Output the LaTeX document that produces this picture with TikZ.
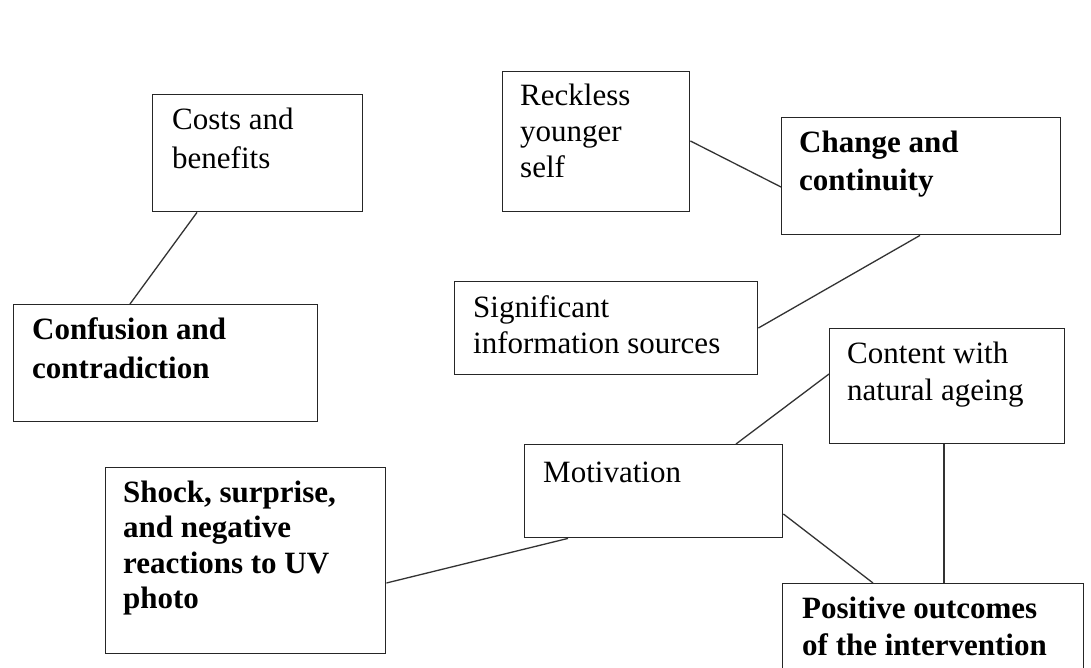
\documentclass[tikz,border=0pt]{standalone}
\usepackage{fontspec}
\setmainfont{Liberation Serif}
\tikzset{
  box/.style={draw=black!85, line width=1.4pt, inner sep=0pt, anchor=north west, fill=white},
  txt/.style={inner sep=0pt, anchor=base west, text=black},
  conn/.style={draw=black!80, line width=1.3pt},
}
\newcommand{\tl}[1]{\begin{tabular}[t]{@{}l@{}}#1\end{tabular}}
\begin{document}
\begin{tikzpicture}[x=1pt,y=-1pt]
\fill[white] (0,0) rectangle (1091,668);
\useasboundingbox (0,0) rectangle (1091,668);
% boxes
\node[box, minimum width=210pt, minimum height=117pt] (cb) at (152,94) {};
\node[box, minimum width=304pt, minimum height=117pt] (cc) at (13,304) {};
\node[box, minimum width=187pt, minimum height=140pt] (rs) at (502,71) {};
\node[box, minimum width=279pt, minimum height=117pt] (ch) at (781,117) {};
\node[box, minimum width=303pt, minimum height=93pt] (si) at (454,281) {};
\node[box, minimum width=235pt, minimum height=115pt] (co) at (829,328) {};
\node[box, minimum width=258pt, minimum height=93pt] (mo) at (524,444) {};
\node[box, minimum width=280pt, minimum height=186pt] (sh) at (105,467) {};
\node[box, minimum width=301pt, minimum height=120pt] (po) at (782,583) {};
% texts
\node[txt, font=\fontsize{31}{39}\selectfont] (cbt) at (172,130) {\tl{Costs and\\benefits}};
\node[txt, font=\fontsize{31}{39}\selectfont\bfseries] (cct) at (32,339) {\tl{Confusion and\\contradiction}};
\node[txt, font=\fontsize{31}{36}\selectfont] (rst) at (520,106) {\tl{Reckless\\younger\\self}};
\node[txt, font=\fontsize{31}{38}\selectfont\bfseries] (cht) at (799,153) {\tl{Change and\\continuity}};
\node[txt, font=\fontsize{31}{36}\selectfont] (sit) at (473,317) {\tl{Significant\\information sources}};
\node[txt, font=\fontsize{31}{37}\selectfont] (cot) at (847,363) {\tl{Content with\\natural ageing}};
\node[txt, font=\fontsize{31}{37}\selectfont] (mot) at (543,482) {\tl{Motivation}};
\node[txt, font=\fontsize{31}{35.5}\selectfont\bfseries] (sht) at (123,502) {\tl{Shock, surprise,\\and negative\\reactions to UV\\photo}};
\node[txt, font=\fontsize{31}{37}\selectfont\bfseries] (pot) at (802,618) {\tl{Positive outcomes\\of the intervention}};
% connectors
\draw[conn] ([xshift=45pt]cb.south west) -- ([xshift=117pt]cc.north west);
\draw[conn] ([yshift=-70pt]rs.north east) -- ([yshift=-70pt]ch.north west);
\draw[conn] ([xshift=139pt]ch.south west) -- ([yshift=-47pt]si.north east);
\draw[conn] ([yshift=-46pt]co.north west) -- ([xshift=212pt]mo.north west);
\draw[conn] ([xshift=44pt]mo.south west) -- ([yshift=-116pt]sh.north east);
\draw[conn] ([yshift=-70pt]mo.north east) -- ([xshift=91pt]po.north west);
\draw[conn] ([xshift=115pt]co.south west) -- ([xshift=162pt]po.north west);
\end{tikzpicture}
\end{document}
